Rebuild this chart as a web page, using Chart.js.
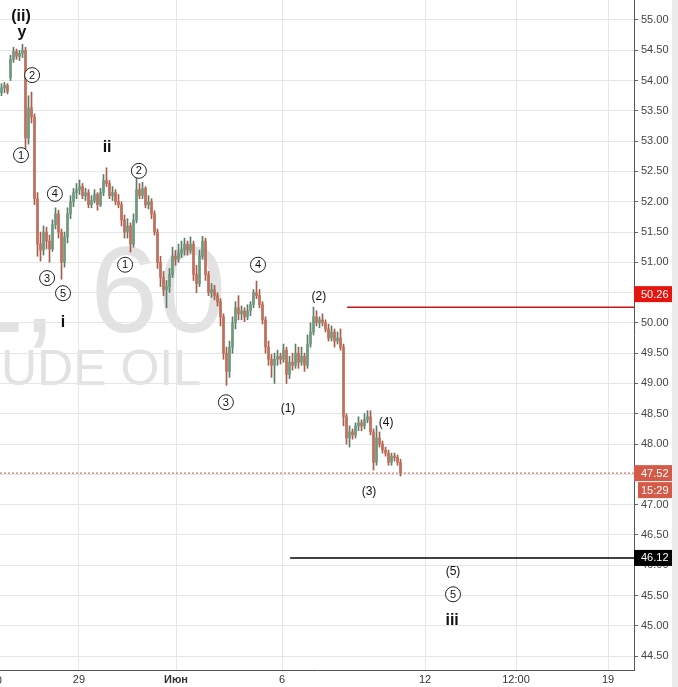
<!DOCTYPE html>
<html>
<head>
<meta charset="utf-8">
<script src="https://cdn.jsdelivr.net/npm/chart.js@4.4.0/dist/chart.umd.min.js"></script>
<style>
  html, body { margin: 0; padding: 0; background: #fff; }
  #wrap { width: 678px; height: 687px; position: relative; }
</style>
</head>
<body>
<div id="wrap"><canvas id="priceChart"></canvas></div>
<script>
// CL 60 min candles
const opens = [53.80, 53.88, 53.92, 54.05, 54.35, 54.48, 54.40, 54.45, 54.50, 53.05,
  53.55, 53.40, 52.05, 51.30, 51.20, 51.50, 51.35, 51.22, 51.62, 51.80,
  51.50, 51.00, 51.42, 51.80, 52.00, 52.15, 52.20, 52.25, 52.10, 52.15,
  51.95, 52.02, 52.12, 51.95, 52.15, 52.35, 52.30, 52.10, 52.15, 52.00,
  51.95, 51.70, 51.50, 51.60, 51.30, 51.70, 52.20, 52.10, 52.22, 51.95,
  52.00, 51.80, 51.50, 51.00, 50.75, 50.55, 50.60, 50.80, 51.10, 51.05,
  51.15, 51.20, 51.30, 51.20, 51.30, 50.80, 50.65, 51.10, 51.35, 50.80,
  50.50, 50.55, 50.45, 50.35, 50.10, 49.50, 49.20, 49.60, 50.00, 50.25,
  50.15, 50.20, 50.10, 50.20, 50.30, 50.50, 50.45, 50.30, 50.05, 49.60,
  49.40, 49.30, 49.40, 49.45, 49.40, 49.55, 49.15, 49.35, 49.30, 49.50,
  49.35, 49.45, 49.30, 49.65, 49.85, 50.10, 50.00, 50.05, 50.00, 49.90,
  49.75, 49.85, 49.70, 49.75, 49.60, 48.45, 48.10, 48.20, 48.15, 48.30,
  48.35, 48.30, 48.40, 48.45, 48.20, 47.70, 48.10, 48.00, 47.90, 47.85,
  47.70, 47.80, 47.78, 47.70];
const highs = [53.95, 53.97, 53.95, 54.42, 54.55, 54.52, 54.50, 54.60, 54.55, 53.75,
  53.81, 53.45, 52.15, 51.50, 51.60, 51.58, 51.45, 51.70, 51.90, 51.86,
  51.55, 51.50, 51.90, 52.10, 52.22, 52.30, 52.36, 52.30, 52.22, 52.20,
  52.10, 52.20, 52.15, 52.22, 52.45, 52.56, 52.35, 52.25, 52.20, 52.12,
  52.00, 51.78, 51.72, 51.65, 51.80, 52.40, 52.30, 52.32, 52.25, 52.10,
  52.05, 51.85, 51.55, 51.10, 50.85, 50.70, 50.90, 51.25, 51.20, 51.30,
  51.35, 51.40, 51.35, 51.42, 51.35, 50.95, 51.20, 51.43, 51.40, 50.85,
  50.65, 50.62, 50.50, 50.40, 50.15, 49.60, 49.70, 50.10, 50.35, 50.45,
  50.28, 50.25, 50.30, 50.35, 50.55, 50.69, 50.55, 50.35, 50.10, 49.70,
  49.48, 49.50, 49.55, 49.50, 49.65, 49.60, 49.45, 49.50, 49.65, 49.60,
  49.60, 49.50, 49.80, 50.00, 50.26, 50.20, 50.10, 50.15, 50.05, 49.98,
  49.95, 49.90, 49.85, 49.90, 49.65, 48.50, 48.30, 48.25, 48.35, 48.45,
  48.40, 48.50, 48.55, 48.55, 48.25, 48.30, 48.20, 48.05, 47.95, 47.90,
  47.85, 47.85, 47.82, 47.75];
const lows = [53.75, 53.80, 53.78, 54.00, 54.30, 54.35, 54.33, 54.38, 52.85, 52.95,
  53.30, 51.95, 51.10, 51.02, 51.12, 51.22, 51.00, 51.18, 51.55, 51.40,
  50.72, 50.92, 51.32, 51.72, 51.92, 52.05, 52.12, 52.05, 52.02, 51.90,
  51.90, 51.98, 51.86, 51.92, 52.10, 52.25, 52.05, 52.02, 51.95, 51.90,
  51.60, 51.40, 51.40, 51.17, 51.25, 51.65, 52.05, 52.05, 51.90, 51.88,
  51.72, 51.45, 50.90, 50.60, 50.45, 50.25, 50.50, 50.75, 50.95, 51.00,
  51.08, 51.12, 51.12, 51.15, 50.70, 50.50, 50.60, 51.05, 50.70, 50.45,
  50.42, 50.38, 50.28, 49.95, 49.40, 48.97, 49.10, 49.50, 49.90, 50.05,
  50.05, 50.02, 50.05, 50.12, 50.25, 50.40, 50.25, 49.98, 49.50, 49.30,
  49.10, 49.00, 49.30, 49.32, 49.35, 49.00, 49.08, 49.22, 49.25, 49.25,
  49.30, 49.20, 49.25, 49.60, 49.80, 49.95, 49.92, 49.95, 49.85, 49.70,
  49.70, 49.60, 49.65, 49.55, 48.30, 48.00, 47.95, 48.08, 48.10, 48.22,
  48.22, 48.25, 48.35, 48.15, 47.57, 47.65, 47.95, 47.85, 47.80, 47.65,
  47.65, 47.72, 47.65, 47.47];
const closes = [53.88, 53.92, 53.82, 54.35, 54.48, 54.40, 54.45, 54.50, 53.05, 53.55,
  53.40, 52.05, 51.30, 51.20, 51.50, 51.35, 51.22, 51.62, 51.80, 51.50,
  51.00, 51.42, 51.80, 52.00, 52.15, 52.20, 52.25, 52.10, 52.15, 51.95,
  52.02, 52.12, 51.95, 52.15, 52.35, 52.30, 52.10, 52.15, 52.00, 51.95,
  51.70, 51.50, 51.60, 51.30, 51.70, 52.20, 52.10, 52.22, 51.95, 52.00,
  51.80, 51.50, 51.00, 50.75, 50.55, 50.60, 50.80, 51.10, 51.05, 51.15,
  51.20, 51.30, 51.20, 51.30, 50.80, 50.65, 51.10, 51.35, 50.80, 50.50,
  50.55, 50.45, 50.35, 50.10, 49.50, 49.20, 49.60, 50.00, 50.25, 50.15,
  50.20, 50.10, 50.20, 50.30, 50.50, 50.45, 50.30, 50.05, 49.60, 49.40,
  49.30, 49.40, 49.45, 49.40, 49.55, 49.15, 49.35, 49.30, 49.50, 49.35,
  49.45, 49.30, 49.65, 49.85, 50.10, 50.00, 50.05, 50.00, 49.90, 49.75,
  49.85, 49.70, 49.75, 49.60, 48.45, 48.10, 48.20, 48.15, 48.30, 48.35,
  48.30, 48.40, 48.45, 48.20, 47.70, 48.10, 48.00, 47.90, 47.85, 47.70,
  47.80, 47.78, 47.70, 47.52];

const xTickPos = [25.83, 58.17, 93.5, 141.17, 171.5, 202.17];
const xTickLabels = ['29', 'Июн', '6', '12', '12:00', '19'];
const yTicks = [44.5, 45, 45.5, 46, 46.5, 47, 47.5, 48, 48.5, 49, 49.5, 50,
  50.5, 51, 51.5, 52, 52.5, 53, 53.5, 54, 54.5, 55];

const resistLevel = 50.26;
const targetLevel = 46.12;
const lastPrice = 47.52;
const lastTime = '15:29';

// wave count marks: c = circled, p = plain, b = bold
const waveMarks = [
  { t: '(ii)', x: 6.5, y: 55.05, k: 'b' },
  { t: 'y', x: 6.8, y: 54.80, k: 'b' },
  { t: '2', x: 10.2, y: 54.09, k: 'c' },
  { t: '1', x: 6.5, y: 52.77, k: 'c' },
  { t: '4', x: 17.8, y: 52.13, k: 'c' },
  { t: '3', x: 15.2, y: 50.74, k: 'c' },
  { t: '5', x: 20.5, y: 50.49, k: 'c' },
  { t: 'i', x: 20.5, y: 50.00, k: 'b' },
  { t: 'ii', x: 35.2, y: 52.89, k: 'b' },
  { t: '2', x: 45.8, y: 52.51, k: 'c' },
  { t: '1', x: 41.2, y: 50.96, k: 'c' },
  { t: '4', x: 85.5, y: 50.96, k: 'c' },
  { t: '3', x: 74.8, y: 48.69, k: 'c' },
  { t: '(1)', x: 95.5, y: 48.58, k: 'p' },
  { t: '(2)', x: 105.8, y: 50.44, k: 'p' },
  { t: '(4)', x: 128.2, y: 48.35, k: 'p' },
  { t: '(3)', x: 122.5, y: 47.22, k: 'p' },
  { t: '(5)', x: 150.5, y: 45.89, k: 'p' },
  { t: '5', x: 150.5, y: 45.52, k: 'c' },
  { t: 'iii', x: 150.2, y: 45.09, k: 'b' }
];

const FONT = '"Liberation Sans", Arial, sans-serif';
const upBody = '#6f9a80', downBody = '#c0705c';
const upWick = '#5b7d68', downWick = '#a85c4a';

const wicks = closes.map((c, i) => ({ x: i, y: [lows[i], highs[i]] }));
const bodies = closes.map((c, i) => ({ x: i, y: [opens[i], c] }));
const isUp = closes.map((c, i) => c >= opens[i]);

const xMax = 210.83;

const watermark = {
  id: 'watermark',
  beforeDraw(chart) {
    const ctx = chart.ctx;
    ctx.save();
    ctx.fillStyle = '#fff';
    ctx.fillRect(0, 0, chart.width, chart.height);
    ctx.fillStyle = '#e2e2e2';
    ctx.textAlign = 'right';
    ctx.textBaseline = 'alphabetic';
    ctx.font = '122px ' + FONT;
    ctx.fillText('CL, 60', 226, 332);
    ctx.font = '50px ' + FONT;
    ctx.fillText('CRUDE OIL', 201, 385);
    ctx.restore();
  }
};

const overlay = {
  id: 'overlay',
  afterDatasetsDraw(chart) {
    const ctx = chart.ctx;
    const xs = chart.scales.x, ys = chart.scales.y;
    ctx.save();
    ctx.textAlign = 'center';
    ctx.textBaseline = 'middle';
    waveMarks.forEach(m => {
      const px = xs.getPixelForValue(m.x), py = ys.getPixelForValue(m.y);
      ctx.fillStyle = '#111';
      if (m.k === 'c') {
        ctx.beginPath();
        ctx.arc(px, py, 7.5, 0, Math.PI * 2);
        ctx.fillStyle = '#fff';
        ctx.fill();
        ctx.strokeStyle = '#222';
        ctx.lineWidth = 1;
        ctx.stroke();
        ctx.fillStyle = '#111';
        ctx.font = '11px ' + FONT;
        ctx.fillText(m.t, px, py + 0.5);
      } else if (m.k === 'p') {
        ctx.font = '12px ' + FONT;
        ctx.fillText(m.t, px, py);
      } else {
        ctx.font = 'bold 16px ' + FONT;
        ctx.fillText(m.t, px, py);
      }
    });

    // price tags on the right axis
    const tag = (text, value, bg, dy, left) => {
      const py = ys.getPixelForValue(value) + dy;
      ctx.fillStyle = bg;
      ctx.fillRect(left, py - 8, 672 - left, 16);
      ctx.fillStyle = '#fff';
      ctx.font = '11px ' + FONT;
      ctx.textAlign = 'left';
      ctx.fillText(text, 641, py + 0.5);
    };
    tag(resistLevel.toFixed(2), resistLevel, '#e4140e', -13, 634);
    tag(lastPrice.toFixed(2), lastPrice, '#d45a47', 0, 634);
    tag(lastTime, lastPrice, '#d45a47', 17, 638);
    tag(targetLevel.toFixed(2), targetLevel, '#000', 0, 634);

    // right edge strip and cut-off time label
    ctx.fillStyle = '#ececec';
    ctx.fillRect(672, 0, 6, chart.height);
    ctx.fillStyle = '#333';
    ctx.font = '11px ' + FONT;
    ctx.textAlign = 'center';
    ctx.fillText('12:00', -12, xs.top + 11);
    ctx.restore();
  }
};

new Chart(document.getElementById('priceChart'), {
  type: 'bar',
  data: {
    datasets: [
      {
        type: 'line',
        data: [{ x: -0.5, y: lastPrice }, { x: xMax, y: lastPrice }],
        borderColor: '#c8553f',
        borderWidth: 1,
        borderDash: [2, 2],
        pointRadius: 0,
        order: 3
      },
      {
        type: 'line',
        data: [{ x: 115.2, y: resistLevel }, { x: xMax, y: resistLevel }],
        borderColor: '#c4161c',
        borderWidth: 1.5,
        pointRadius: 0,
        order: 0
      },
      {
        type: 'line',
        data: [{ x: 96.2, y: targetLevel }, { x: xMax, y: targetLevel }],
        borderColor: '#000',
        borderWidth: 1.5,
        pointRadius: 0,
        order: 0
      },
      {
        data: wicks,
        backgroundColor: isUp.map(u => u ? upWick : downWick),
        barThickness: 1,
        grouped: false,
        order: 2
      },
      {
        data: bodies,
        backgroundColor: isUp.map(u => u ? upBody : downBody),
        barThickness: 2,
        minBarLength: 1,
        grouped: false,
        order: 1
      }
    ]
  },
  options: {
    responsive: true,
    maintainAspectRatio: false,
    animation: false,
    devicePixelRatio: 1,
    layout: { padding: 0, autoPadding: false },
    plugins: {
      legend: { display: false },
      tooltip: { enabled: false }
    },
    scales: {
      x: {
        type: 'linear',
        min: -0.5,
        max: xMax,
        offset: false,
        afterBuildTicks: s => { s.ticks = xTickPos.map(v => ({ value: v })); },
        afterFit: s => { s.height = 17; s.paddingLeft = 0; s.paddingRight = 0; },
        ticks: {
          autoSkip: false,
          maxRotation: 0,
          padding: 3,
          color: '#333',
          callback: (v, i) => xTickLabels[i],
          font: c => ({ family: FONT, size: 11, weight: c.index === 1 ? 'bold' : 'normal' })
        },
        grid: { color: '#e6e6e6', drawTicks: false, offset: false },
        border: { color: '#555' }
      },
      y: {
        position: 'right',
        min: 44.27,
        max: 55.33,
        afterBuildTicks: s => { s.ticks = yTicks.map(v => ({ value: v })); },
        afterFit: s => { s.width = 44; s.paddingTop = 0; s.paddingBottom = 0; },
        ticks: {
          padding: 3,
          color: '#444',
          font: { family: FONT, size: 11 },
          callback: v => v.toFixed(2)
        },
        grid: { color: '#e6e6e6', tickColor: '#666', tickLength: 4 },
        border: { color: '#555' }
      }
    }
  },
  plugins: [watermark, overlay]
});
</script>
</body>
</html>
